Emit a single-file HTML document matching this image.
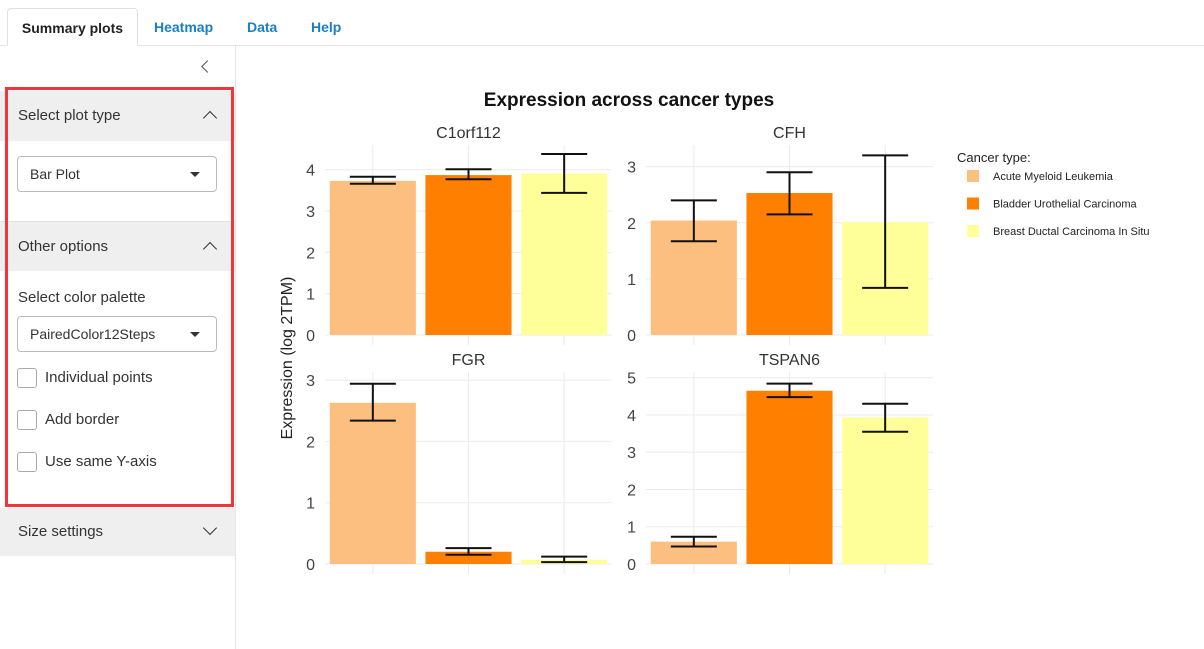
<!DOCTYPE html>
<html><head><meta charset="utf-8"><style>
*{box-sizing:border-box;margin:0;padding:0}
body{width:1204px;height:649px;overflow:hidden;background:#fff;font-family:"Liberation Sans",sans-serif;color:#222;position:relative}
.abs{position:absolute}
.tab{position:absolute;top:8px;height:38px;line-height:38px;font-size:14px;font-weight:bold;color:#1a7fc1}
.sec{position:absolute;left:0;width:235px;background:#efefef;font-size:15px;color:#333}
.sec span{position:absolute;left:18px;top:0}
.chev{position:absolute;right:20px;width:10px;height:10px;border-left:1.6px solid #333;border-top:1.6px solid #333}
.sel{position:absolute;left:17px;width:200px;height:36px;border:1px solid #bbb;border-radius:4px;font-size:14px;line-height:34px;padding-left:12px;color:#333}
.sel:after{content:"";position:absolute;right:16px;top:15px;border:5px solid transparent;border-top:5px solid #333}
.cb{position:absolute;left:17px;width:20px;height:20px;border:1px solid #aaa;border-radius:3px;background:#fff}
.cbl{position:absolute;left:45px;font-size:15px;color:#333}
</style></head><body>
<div class="abs" style="left:0;top:0;width:1204px;height:46px;border-bottom:1px solid #e5e5e5"></div>
<div class="tab" style="left:7px;width:131px;text-align:center;color:#222;background:#fff;border:1px solid #e0e0e0;border-bottom:1px solid #fff;border-radius:4px 4px 0 0">Summary plots</div>
<div class="tab" style="left:154px">Heatmap</div>
<div class="tab" style="left:247px">Data</div>
<div class="tab" style="left:311px">Help</div>
<div class="abs" style="left:0;top:46px;width:236px;height:603px;border-right:1px solid #e5e5e5"></div>
<div class="abs" style="left:203px;top:62px;width:9px;height:9px;border-left:1.5px solid #555;border-bottom:1.5px solid #555;transform:rotate(45deg)"></div>
<div class="sec" style="top:91px;height:50px;line-height:50px"><span>Select plot type</span><div class="chev" style="top:22px;transform:rotate(45deg)"></div></div>
<div class="sel" style="top:156px">Bar Plot</div>
<div class="sec" style="top:221px;height:50px;line-height:50px;border-top:1px solid #e0e0e0"><span>Other options</span><div class="chev" style="top:22px;transform:rotate(45deg)"></div></div>
<div class="abs" style="left:18px;top:289px;font-size:15px;color:#333">Select color palette</div>
<div class="sel" style="top:316px">PairedColor12Steps</div>
<div class="cb" style="top:368px"></div><div class="cbl" style="top:369px">Individual points</div>
<div class="cb" style="top:410px"></div><div class="cbl" style="top:411px">Add border</div>
<div class="cb" style="top:452px"></div><div class="cbl" style="top:453px">Use same Y-axis</div>
<div class="sec" style="top:508px;height:48px;line-height:48px"><span>Size settings</span><div class="chev" style="top:15px;transform:rotate(225deg)"></div></div>
<div class="abs" style="left:5px;top:87px;width:229px;height:420px;border:3px solid #f2353b"></div>

<svg id="chart" class="abs" style="left:0;top:0" width="1204" height="649" font-family="Liberation Sans, sans-serif"></svg>
<script>
const genes=["C1orf112","CFH","FGR","TSPAN6"];
const cancerTypes=["Acute Myeloid Leukemia","Bladder Urothelial Carcinoma","Breast Ductal Carcinoma In Situ"];
const colors=["#fdbf7f","#ff7f00","#ffff99"];
const meanC1orf112=[3.73,3.87,3.91], lowC1orf112=[3.66,3.77,3.44], highC1orf112=[3.83,4.01,4.38];
const meanCFH=[2.04,2.53,2.01], lowCFH=[1.67,2.15,0.84], highCFH=[2.40,2.90,3.20];
const meanFGR=[2.63,0.20,0.07], lowFGR=[2.34,0.15,0.03], highFGR=[2.94,0.26,0.12];
const meanTSPAN6=[0.60,4.65,3.93], lowTSPAN6=[0.47,4.48,3.55], highTSPAN6=[0.73,4.84,4.30];
const yTicksC1orf112=[0,1,2,3,4], yTicksCFH=[0,1,2,3], yTicksFGR=[0,1,2,3], yTicksTSPAN6=[0,1,2,3,4,5];
const yMax=[4.55,3.35,3.1,5.1];
const means=[meanC1orf112,meanCFH,meanFGR,meanTSPAN6], lows=[lowC1orf112,lowCFH,lowFGR,lowTSPAN6], highs=[highC1orf112,highCFH,highFGR,highTSPAN6];
const ticks=[yTicksC1orf112,yTicksCFH,yTicksFGR,yTicksTSPAN6];
const svg=document.getElementById('chart');const NS="http://www.w3.org/2000/svg";
function mk(t,a,p){const e=document.createElementNS(NS,t);for(const k in a)e.setAttribute(k,a[k]);(p||svg).appendChild(e);return e;}
const panels=[{x0:325,x1:612,top:145,zero:335},{x0:646,x1:933,top:145,zero:335},{x0:325,x1:612,top:372,zero:564},{x0:646,x1:933,top:372,zero:564}];
let t=mk('text',{x:629,y:106,'text-anchor':'middle','font-size':19,'font-weight':'bold',fill:'#111'});
t.textContent='Expression across cancer types';
t=mk('text',{x:292,y:358,'text-anchor':'middle','font-size':16,fill:'#222',transform:'rotate(-90 292 358)'});
t.textContent='Expression (log 2TPM)';
genes.forEach((g,i)=>{
  const P=panels[i];
  const yS=v=>P.zero-v*(P.zero-P.top-2)/yMax[i];
  const bw=(P.x1-P.x0)/3;
  const xS=j=>P.x0+bw*(j+0.5);
  const grp=mk('g',{});
  for(let j=0;j<3;j++){const l=mk('line',{x1:xS(j),x2:xS(j),y1:P.top,y2:P.zero+10,stroke:'#ebebeb'},grp);}
  ticks[i].forEach(v=>{
    const l=mk('line',{x1:P.x0,x2:P.x1,y1:yS(v),y2:yS(v),stroke:'#ebebeb'},grp);
    const tx=mk('text',{x:P.x0-10,y:yS(v)+6,'text-anchor':'end','font-size':16,fill:'#444'},grp);tx.textContent=v;
  });
  const tt=mk('text',{x:(P.x0+P.x1)/2,y:P.top-7,'text-anchor':'middle','font-size':16,fill:'#333'},grp);tt.textContent=g;
  means[i].forEach((m,j)=>{
    const r=mk('rect',{x:xS(j)-bw*0.45,y:yS(m),width:bw*0.9,height:yS(0)-yS(m),fill:colors[j]},grp);
    
    const e=mk('path',{d:`M${xS(j)-23} ${yS(highs[i][j])}H${xS(j)+23}M${xS(j)} ${yS(highs[i][j])}V${yS(lows[i][j])}M${xS(j)-23} ${yS(lows[i][j])}H${xS(j)+23}`,stroke:'#111','stroke-width':2,fill:'none'},grp);
    
  });
});
t=mk('text',{x:957,y:162,'font-size':13,fill:'#222'});t.textContent='Cancer type:';
cancerTypes.forEach((c,j)=>{
  const y=176+j*27.5;
  const r=mk('rect',{x:967,y:y-6,width:12,height:12,fill:colors[j]});
  const tx=mk('text',{x:993,y:y+4,'font-size':11,fill:'#222'});tx.textContent=c;
});
</script>
</body></html>
